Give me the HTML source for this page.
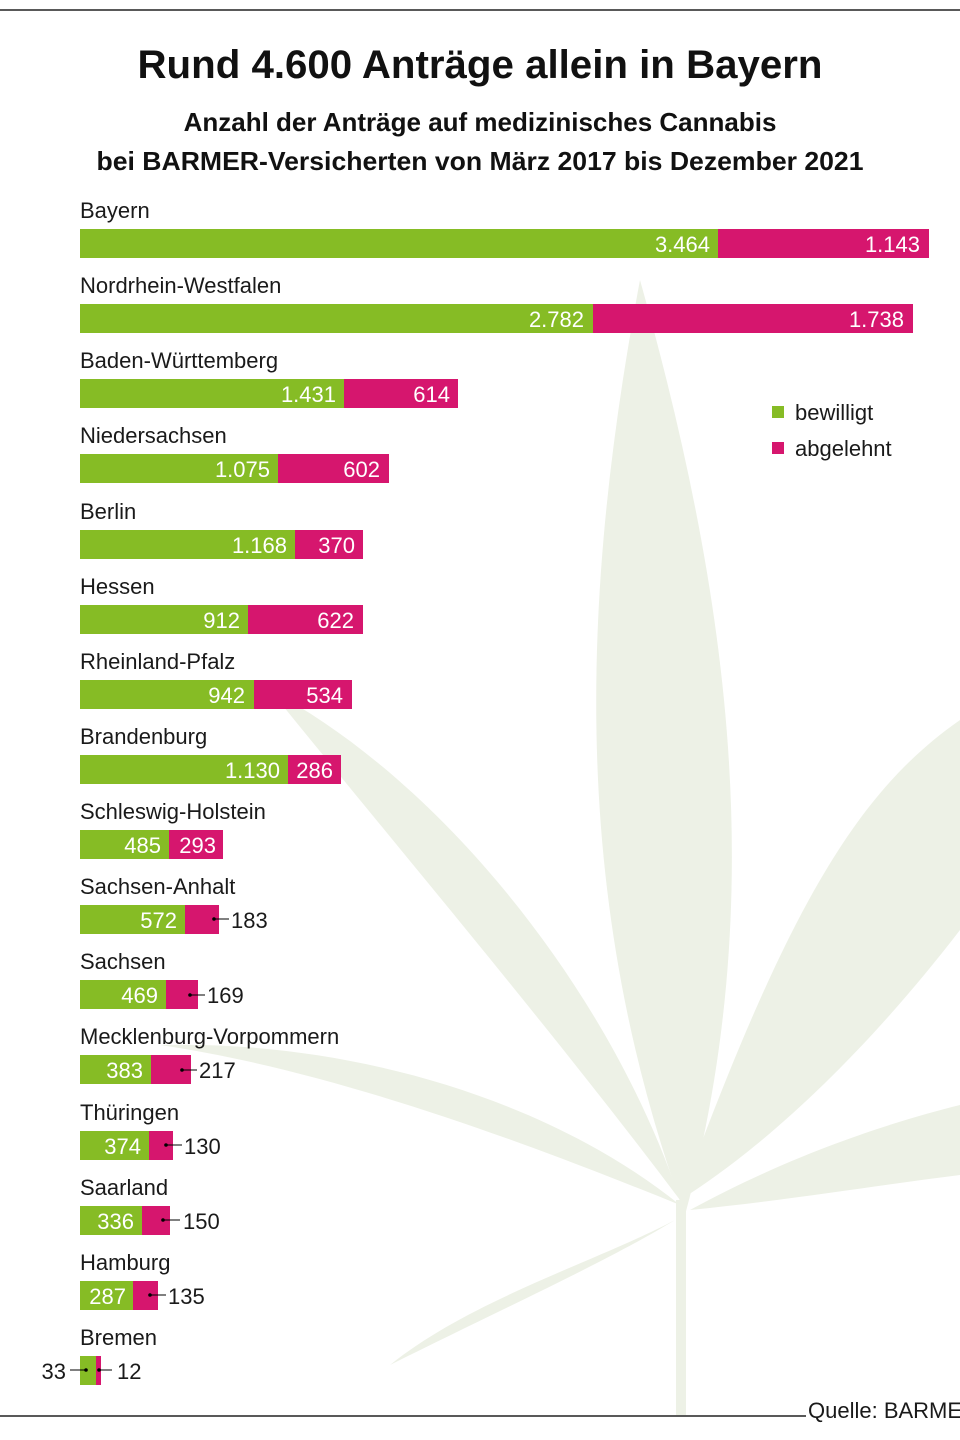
<!DOCTYPE html>
<html><head><meta charset="utf-8"><style>
html,body{margin:0;padding:0;background:#fff}
svg{display:block}
text{font-family:"Liberation Sans",sans-serif}
.l{font-size:22px;fill:#1a1a1a}
.v{font-size:22px;fill:#fff;text-anchor:end}
.o{font-size:22px;fill:#1a1a1a}
</style></head><body>
<svg width="960" height="1440" viewBox="0 0 960 1440">
<rect width="960" height="1440" fill="#fff"/>
<g fill="#edf1e6">
<path d="M685 1215 C570 900 580 600 640 280 C730 600 770 900 685 1215Z"/>
<path d="M680 1200 C790 900 860 790 960 720 L960 930 C860 1060 760 1150 680 1200Z"/>
<path d="M680 1200 C560 1040 400 850 270 690 C440 780 610 990 680 1200Z"/>
<path d="M680 1205 C520 1140 330 1070 160 1045 C350 1040 550 1100 680 1205Z"/>
<path d="M690 1210 C800 1150 900 1120 960 1105 L960 1175 C880 1185 790 1200 690 1210Z"/>
<path d="M675 1220 C600 1260 470 1300 390 1365 C500 1310 610 1260 675 1220Z"/>
<rect x="676" y="1200" width="10" height="215"/>
</g>
<line x1="0" y1="10" x2="960" y2="10" stroke="#222" stroke-width="1.5"/>
<text x="480" y="78" text-anchor="middle" font-size="40" font-weight="bold" fill="#111" textLength="685" lengthAdjust="spacingAndGlyphs">Rund 4.600 Anträge allein in Bayern</text>
<text x="480" y="131" text-anchor="middle" font-size="26" font-weight="bold" fill="#111">Anzahl der Anträge auf medizinisches Cannabis</text>
<text x="480" y="170" text-anchor="middle" font-size="26" font-weight="bold" fill="#111" textLength="767" lengthAdjust="spacingAndGlyphs">bei BARMER-Versicherten von März 2017 bis Dezember 2021</text>
<rect x="772" y="406" width="12" height="12" fill="#86bc25"/><text x="795" y="420" class="l">bewilligt</text>
<rect x="772" y="442" width="12" height="12" fill="#d6166e"/><text x="795" y="456" class="l">abgelehnt</text>
<g>
<text x="80" y="218" class="l">Bayern</text>
<rect x="80" y="229" width="638" height="29" fill="#86bc25"/><rect x="718" y="229" width="211" height="29" fill="#d6166e"/>
<text x="710" y="252" class="v">3.464</text><text x="920" y="252" class="v">1.143</text>

<text x="80" y="293" class="l">Nordrhein-Westfalen</text>
<rect x="80" y="304" width="513" height="29" fill="#86bc25"/><rect x="593" y="304" width="320" height="29" fill="#d6166e"/>
<text x="584" y="327" class="v">2.782</text><text x="904" y="327" class="v">1.738</text>

<text x="80" y="368" class="l">Baden-Württemberg</text>
<rect x="80" y="379" width="264" height="29" fill="#86bc25"/><rect x="344" y="379" width="114" height="29" fill="#d6166e"/>
<text x="336" y="402" class="v">1.431</text><text x="450" y="402" class="v">614</text>

<text x="80" y="443" class="l">Niedersachsen</text>
<rect x="80" y="454" width="198" height="29" fill="#86bc25"/><rect x="278" y="454" width="111" height="29" fill="#d6166e"/>
<text x="270" y="477" class="v">1.075</text><text x="380" y="477" class="v">602</text>

<text x="80" y="519" class="l">Berlin</text>
<rect x="80" y="530" width="215" height="29" fill="#86bc25"/><rect x="295" y="530" width="68" height="29" fill="#d6166e"/>
<text x="287" y="553" class="v">1.168</text><text x="355" y="553" class="v">370</text>

<text x="80" y="594" class="l">Hessen</text>
<rect x="80" y="605" width="168" height="29" fill="#86bc25"/><rect x="248" y="605" width="115" height="29" fill="#d6166e"/>
<text x="240" y="628" class="v">912</text><text x="354" y="628" class="v">622</text>

<text x="80" y="669" class="l">Rheinland-Pfalz</text>
<rect x="80" y="680" width="174" height="29" fill="#86bc25"/><rect x="254" y="680" width="98" height="29" fill="#d6166e"/>
<text x="245" y="703" class="v">942</text><text x="343" y="703" class="v">534</text>

<text x="80" y="744" class="l">Brandenburg</text>
<rect x="80" y="755" width="208" height="29" fill="#86bc25"/><rect x="288" y="755" width="53" height="29" fill="#d6166e"/>
<text x="280" y="778" class="v">1.130</text><text x="333" y="778" class="v">286</text>

<text x="80" y="819" class="l">Schleswig-Holstein</text>
<rect x="80" y="830" width="89" height="29" fill="#86bc25"/><rect x="169" y="830" width="54" height="29" fill="#d6166e"/>
<text x="161" y="853" class="v">485</text><text x="216" y="853" class="v">293</text>

<text x="80" y="894" class="l">Sachsen-Anhalt</text>
<rect x="80" y="905" width="105" height="29" fill="#86bc25"/><rect x="185" y="905" width="34" height="29" fill="#d6166e"/>
<text x="177" y="928" class="v">572</text>
<circle cx="214" cy="919" r="1.8" fill="#000"/><line x1="214" y1="919" x2="229" y2="919" stroke="#000"/><text x="231" y="928" class="o">183</text>

<text x="80" y="969" class="l">Sachsen</text>
<rect x="80" y="980" width="86" height="29" fill="#86bc25"/><rect x="166" y="980" width="32" height="29" fill="#d6166e"/>
<text x="158" y="1003" class="v">469</text>
<circle cx="190" cy="995" r="1.8" fill="#000"/><line x1="190" y1="995" x2="205" y2="995" stroke="#000"/><text x="207" y="1003" class="o">169</text>

<text x="80" y="1044" class="l">Mecklenburg-Vorpommern</text>
<rect x="80" y="1055" width="71" height="29" fill="#86bc25"/><rect x="151" y="1055" width="40" height="29" fill="#d6166e"/>
<text x="143" y="1078" class="v">383</text>
<circle cx="182" cy="1070" r="1.8" fill="#000"/><line x1="182" y1="1070" x2="197" y2="1070" stroke="#000"/><text x="199" y="1078" class="o">217</text>

<text x="80" y="1120" class="l">Thüringen</text>
<rect x="80" y="1131" width="69" height="29" fill="#86bc25"/><rect x="149" y="1131" width="24" height="29" fill="#d6166e"/>
<text x="141" y="1154" class="v">374</text>
<circle cx="166" cy="1145" r="1.8" fill="#000"/><line x1="166" y1="1145" x2="182" y2="1145" stroke="#000"/><text x="184" y="1154" class="o">130</text>

<text x="80" y="1195" class="l">Saarland</text>
<rect x="80" y="1206" width="62" height="29" fill="#86bc25"/><rect x="142" y="1206" width="28" height="29" fill="#d6166e"/>
<text x="134" y="1229" class="v">336</text>
<circle cx="163" cy="1220" r="1.8" fill="#000"/><line x1="163" y1="1220" x2="180" y2="1220" stroke="#000"/><text x="183" y="1229" class="o">150</text>

<text x="80" y="1270" class="l">Hamburg</text>
<rect x="80" y="1281" width="53" height="29" fill="#86bc25"/><rect x="133" y="1281" width="25" height="29" fill="#d6166e"/>
<text x="126" y="1304" class="v">287</text>
<circle cx="150" cy="1295" r="1.8" fill="#000"/><line x1="150" y1="1295" x2="166" y2="1295" stroke="#000"/><text x="168" y="1304" class="o">135</text>

<text x="80" y="1345" class="l">Bremen</text>
<rect x="80" y="1356" width="16" height="29" fill="#86bc25"/><rect x="96" y="1356" width="5" height="29" fill="#d6166e"/>
<circle cx="86" cy="1370" r="1.8" fill="#000"/><line x1="70" y1="1370" x2="86" y2="1370" stroke="#000"/><text x="66" y="1379" class="o" text-anchor="end">33</text>
<circle cx="99" cy="1370" r="1.8" fill="#000"/><line x1="99" y1="1370" x2="112" y2="1370" stroke="#000"/><text x="117" y="1379" class="o">12</text>
</g>
<line x1="0" y1="1416" x2="806" y2="1416" stroke="#222" stroke-width="1.5"/>
<text x="808" y="1418" class="o">Quelle: BARMER</text>
</svg>
</body></html>
